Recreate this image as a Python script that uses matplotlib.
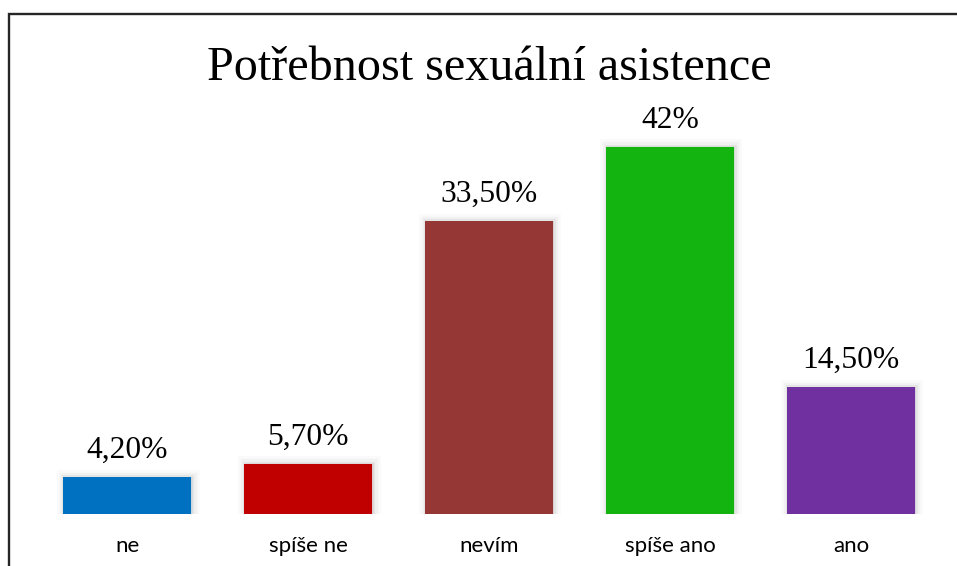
import matplotlib
matplotlib.use("Agg")
import matplotlib.pyplot as plt
import matplotlib.patheffects as pe
from matplotlib.lines import Line2D

categories = ["ne", "spíše ne", "nevím", "spíše ano", "ano"]
values = [4.2, 5.7, 33.5, 42.0, 14.5]
value_labels = ["4,20%", "5,70%", "33,50%", "42%", "14,50%"]
colors = ["#0070C0", "#C00000", "#953735", "#13B40F", "#7030A0"]
title = "Potřebnost sexuální asistence"

W, H, DPI = 957, 566, 100
fig = plt.figure(figsize=(W / DPI, H / DPI), dpi=DPI)
fig.patch.set_facecolor("white")

# plot area in pixel terms
left_px, right_px = 36.65, 941.35
bottom_px, top_px = 514, 77
ax = fig.add_axes([left_px / W, 1 - bottom_px / H,
                   (right_px - left_px) / W, (bottom_px - top_px) / H])

x = list(range(len(categories)))
bars = ax.bar(x, values, width=0.708, color=colors, zorder=3)
for b in bars:
    b.set_edgecolor("none")
    b.set_path_effects([
        pe.Stroke(offset=(1, 0.5), linewidth=10, foreground="black", alpha=0.02),
        pe.Stroke(offset=(1, 0.5), linewidth=6, foreground="black", alpha=0.035),
        pe.Stroke(offset=(0.5, 0.3), linewidth=3, foreground="black", alpha=0.05),
        pe.Normal(),
    ])

for xi, v, lab in zip(x, values, value_labels):
    ax.annotate(lab, (xi, v), xytext=(0, 13.7), textcoords="offset points",
                ha="center", va="baseline", fontsize=22.7,
                family=["Liberation Serif", "DejaVu Serif"], color="black")

ax.set_xlim(-0.5, len(categories) - 0.5)
ax.set_ylim(0, 50)
ax.set_xticks(x)
ax.set_xticklabels(categories, fontsize=16, family=["Lato", "DejaVu Sans"],
                   va="baseline")
ax.tick_params(axis="x", length=0, pad=27.4)
ax.set_yticks([])
for s in ax.spines.values():
    s.set_visible(False)

fig.text(489 / W, 1 - 80 / H, title, ha="center", va="baseline", fontsize=34.7,
         family=["Liberation Serif", "DejaVu Serif"], color="black")

# chart frame: left and top edges (the rest runs off the canvas)
fx, fy = 8.5 / W, 1 - 13.5 / H
fig.add_artist(Line2D([fx, fx, 1.05], [-0.05, fy, fy], transform=fig.transFigure,
                      color="#262626", linewidth=1.7, solid_joinstyle="miter",
                      clip_on=False))

fig.savefig("out.png", dpi=DPI, facecolor="white")
